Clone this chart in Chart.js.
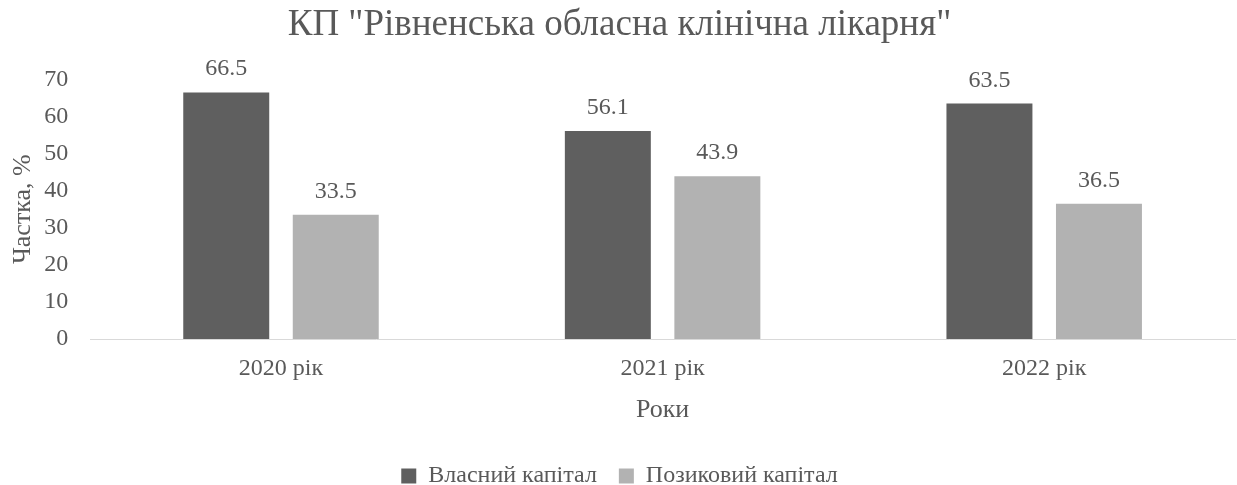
<!DOCTYPE html>
<html>
<head>
<meta charset="utf-8">
<script src="https://cdn.jsdelivr.net/npm/chart.js@4"></script>
<style>
  html, body { margin: 0; padding: 0; background: #ffffff; }
  #wrap { width: 1237px; height: 485px; }
</style>
</head>
<body>
<div id="wrap"><canvas id="c" width="1237" height="485"></canvas></div>
<script>
const categories = ["2020 рік", "2021 рік", "2022 рік"];
const ownCapital = [66.5, 56.1, 63.5];
const borrowedCapital = [33.5, 43.9, 36.5];
const seriesNames = ["Власний капітал", "Позиковий капітал"];
const titleText = 'КП "Рівненська обласна клінічна лікарня"';
const yTitle = "Частка, %";
const xTitle = "Роки";

const textColor = "#595959";
const serif = "'Liberation Serif', 'Times New Roman', serif";

const dataLabels = {
  id: "dataLabels",
  afterDatasetsDraw(chart) {
    const ctx = chart.ctx;
    ctx.save();
    ctx.font = "24px " + serif;
    ctx.fillStyle = textColor;
    ctx.textAlign = "center";
    ctx.textBaseline = "alphabetic";
    chart.data.datasets.forEach((ds, i) => {
      const meta = chart.getDatasetMeta(i);
      meta.data.forEach((el, j) => {
        ctx.fillText(ds.data[j].toFixed(1), el.x, el.y - 17);
      });
    });
    ctx.restore();
  }
};

new Chart(document.getElementById("c"), {
  type: "bar",
  data: {
    labels: categories,
    datasets: [
      { label: seriesNames[0], data: ownCapital, backgroundColor: "#5f5f5f" },
      { label: seriesNames[1], data: borrowedCapital, backgroundColor: "#b2b2b2" }
    ]
  },
  options: {
    responsive: false,
    animation: false,
    layout: { padding: { top: 3, left: 4, right: 2, bottom: -13 } },
    datasets: { bar: { categoryPercentage: 0.574, barPercentage: 0.785 } },
    scales: {
      x: {
        grid: { display: false, drawTicks: false },
        border: { display: true, color: "#d9d9d9", width: 1 },
        ticks: { color: textColor, font: { family: serif, size: 24 }, padding: 15 },
        title: { display: true, text: xTitle, color: textColor, font: { family: serif, size: 26 }, padding: { top: -3, bottom: 16 } }
      },
      y: {
        min: 0, max: 70,
        grid: { display: false, drawTicks: false },
        border: { display: false },
        ticks: { stepSize: 10, color: textColor, font: { family: serif, size: 24 }, padding: 22 },
        title: { display: true, text: yTitle, color: textColor, font: { family: serif, size: 26 }, padding: { top: 4, bottom: -17 } }
      }
    },
    plugins: {
      title: { display: true, text: titleText, color: textColor, font: { family: serif, size: 37, weight: "normal" }, padding: { top: 0, bottom: 32 } },
      legend: {
        position: "bottom",
        labels: { color: textColor, font: { family: serif, size: 24 }, boxWidth: 15, boxHeight: 15, padding: 22 }
      },
      tooltip: { enabled: false }
    }
  },
  plugins: [dataLabels]
});
</script>
</body>
</html>
